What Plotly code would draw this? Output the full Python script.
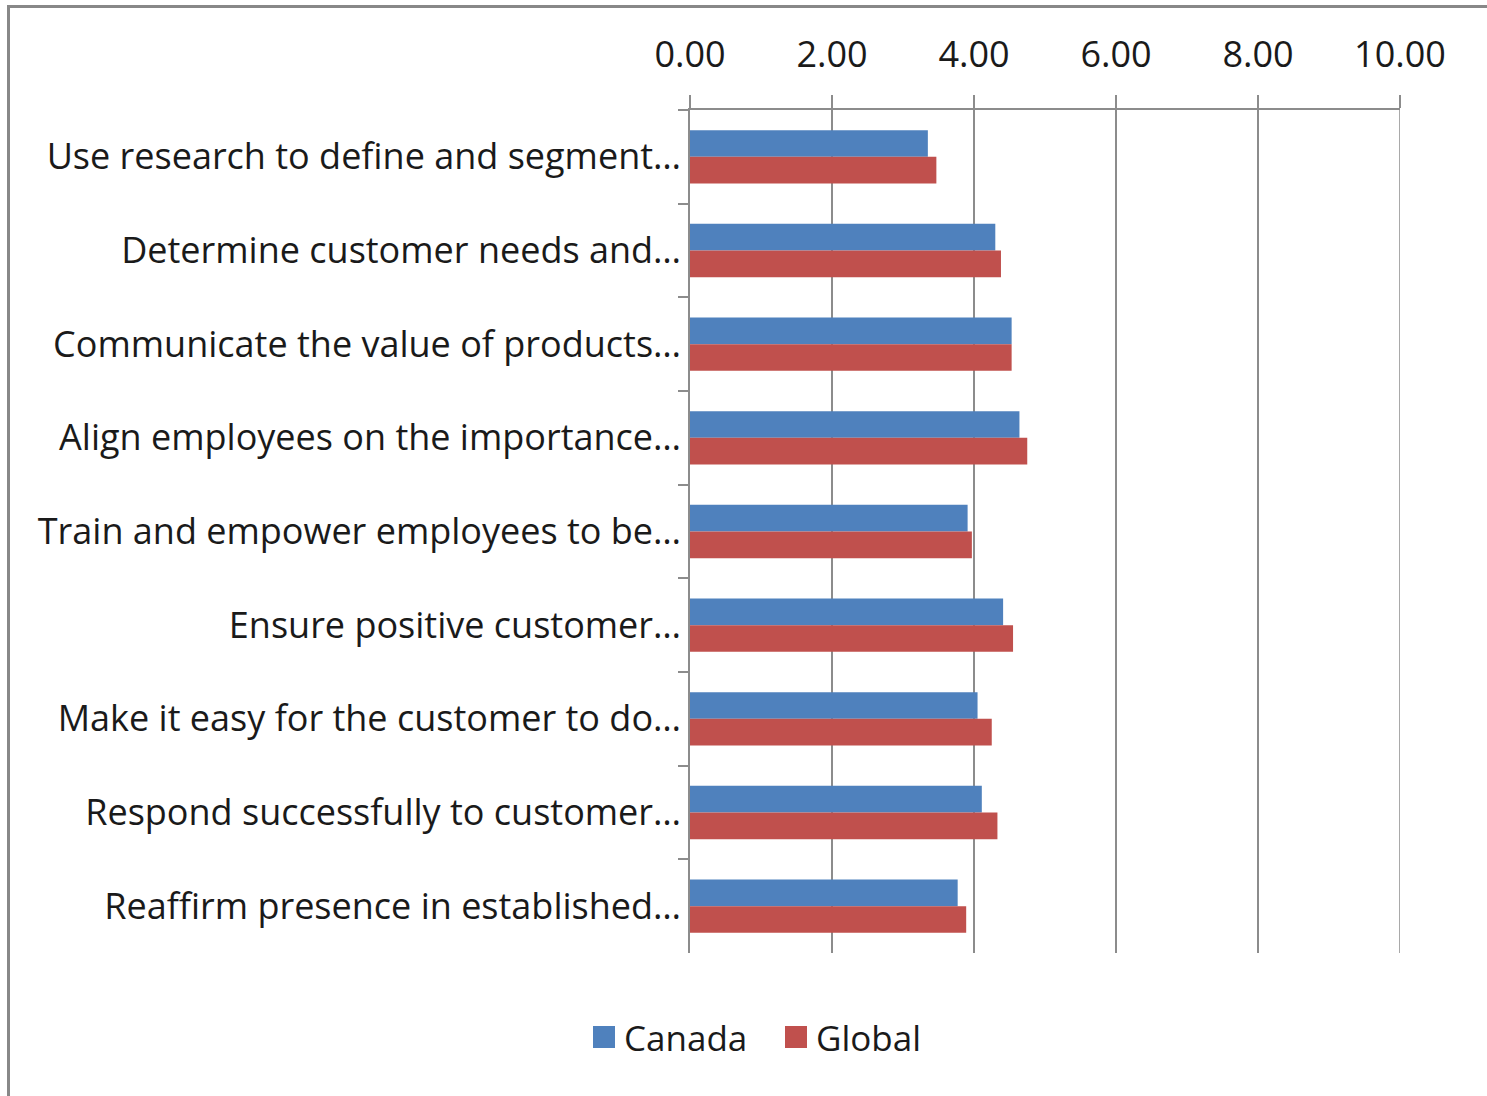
import plotly.graph_objects as go

# Categories (top to bottom) and scores per region
categories = [
    "Use research to define and segment…",
    "Determine customer needs and…",
    "Communicate the value of products…",
    "Align employees on the importance…",
    "Train and empower employees to be…",
    "Ensure positive customer…",
    "Make it easy for the customer to do…",
    "Respond successfully to customer…",
    "Reaffirm presence in established…",
]
canada = [3.35, 4.30, 4.53, 4.64, 3.91, 4.41, 4.05, 4.11, 3.77]
global_ = [3.47, 4.38, 4.53, 4.75, 3.97, 4.55, 4.25, 4.33, 3.89]
x_ticks = [0, 2, 4, 6, 8, 10]
x_max = 10
series_names = ["Canada", "Global"]

BLUE = "#4F81BD"
RED = "#C0504D"
GRID = "#8c8c8c"
FONT = "Open Sans"

fig = go.Figure()
fig.add_trace(go.Bar(y=categories, x=canada, name=series_names[0], orientation="h",
                     marker=dict(color=BLUE, line=dict(width=0)), showlegend=False))
fig.add_trace(go.Bar(y=categories, x=global_, name=series_names[1], orientation="h",
                     marker=dict(color=RED, line=dict(width=0)), showlegend=False))

W, H = 1487, 1096
L, R, T, B = 690, 87, 110, 143
pw, ph = W - L - R, H - T - B

def px_x(x):
    return (x - L) / pw

def px_y(y):
    return (H - B - y) / ph

# Outer chart frame (top and left edges visible)
fig.add_shape(type="rect", xref="paper", yref="paper",
              x0=px_x(8.5), x1=px_x(W + 20), y0=px_y(H + 20), y1=px_y(6.5),
              line=dict(color="#888888", width=3), layer="below")

# Gridline at the far end of the value axis
fig.add_shape(type="line", xref="x", yref="paper", x0=x_max, x1=x_max, y0=0, y1=1,
              line=dict(color=GRID, width=1.5), layer="below")

# Legend drawn as swatches with labels
legend_items = [(series_names[0], BLUE, 593), (series_names[1], RED, 785)]
for name, color, xl in legend_items:
    fig.add_shape(type="rect", xref="paper", yref="paper",
                  x0=px_x(xl), x1=px_x(xl + 22), y0=px_y(1048), y1=px_y(1026),
                  fillcolor=color, line=dict(width=0))
    fig.add_annotation(xref="paper", yref="paper", x=px_x(xl + 29), y=px_y(1037),
                       text=name, showarrow=False, xanchor="left", yanchor="middle",
                       font=dict(family=FONT, size=35, color="#1a1a1a"))

fig.update_layout(
    width=W, height=H,
    margin=dict(l=L, r=R, t=T, b=B, autoexpand=False),
    paper_bgcolor="white", plot_bgcolor="white",
    barmode="group", bargap=0.43, bargroupgap=0,
    font=dict(family=FONT, size=36, color="#1a1a1a"),
    showlegend=False,
)
fig.update_xaxes(
    side="top", range=[0, x_max], tickvals=x_ticks, tickformat=".2f",
    showgrid=True, gridcolor=GRID, gridwidth=1.5,
    showline=True, linecolor=GRID, linewidth=1.5,
    ticks="outside", ticklen=13, tickcolor=GRID, tickwidth=1.5,
    ticklabelstandoff=14, zeroline=False,
    tickfont=dict(family=FONT, size=36, color="#1a1a1a"),
)
fig.update_yaxes(
    autorange="reversed", type="category",
    showline=True, linecolor=GRID, linewidth=1.5,
    ticks="outside", ticklen=10, tickcolor=GRID, tickwidth=1.5,
    tickson="boundaries", showgrid=False,
    tickfont=dict(family=FONT, size=36, color="#1a1a1a"),
)

fig.write_html("out.html")
